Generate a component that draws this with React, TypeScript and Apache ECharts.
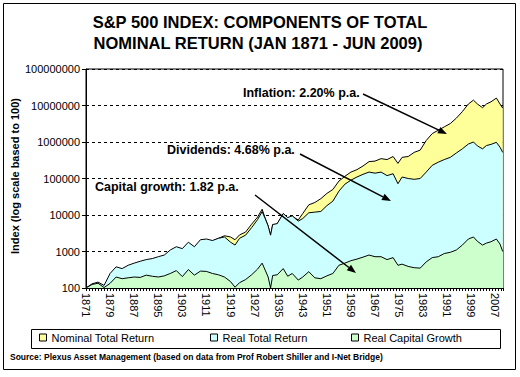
import React, { useEffect, useRef } from "react";
import * as echarts from "echarts";

// ---- Data ----
const years = [
  1871, 1873, 1875, 1877, 1879, 1881, 1883, 1885, 1887, 1889, 1891, 1893, 1895, 1897, 1899,
  1901, 1903, 1905, 1907, 1909, 1911, 1913, 1915, 1917, 1919, 1920.5, 1922, 1924, 1926, 1928,
  1929.5, 1930.5, 1931.5, 1932.3, 1933, 1934.5, 1936.5, 1938, 1939.5, 1941.5, 1943, 1945, 1947,
  1949, 1951, 1953, 1955, 1957, 1959, 1961, 1963, 1965, 1967, 1969, 1971, 1973, 1974.6, 1976,
  1978, 1980, 1982, 1984, 1986, 1988, 1990, 1992, 1994, 1996, 1998, 1999.7, 2001, 2002.7, 2004,
  2005.5, 2007.3, 2008.5, 2009.4,
];

const nominalTotalReturn = [
  100, 120, 125, 100, 200, 320, 290, 340, 390, 430, 480, 520, 560, 620, 880,
  1100, 1000, 1550, 1200, 1900, 2050, 1950, 2300, 2700, 2500, 2100, 2850, 3400, 5600, 8800,
  14400, 8200, 5000, 2700, 5400, 5600, 10800, 8200, 9200, 7300, 11000, 19000, 22000,
  28000, 39000, 50000, 85000, 115000, 150000, 175000, 220000, 290000, 300000, 350000, 330000, 400000, 260000, 380000,
  400000, 520000, 600000, 1100000, 1700000, 2100000, 2600000, 3200000, 4500000, 6800000, 11000000, 14000000, 11000000, 8700000, 11000000,
  12600000, 16000000, 11000000, 8500000,
];

const realTotalReturn = [
  100, 130, 145, 118, 250, 380, 340, 420, 480, 540, 600, 640, 720, 800, 1100,
  1350, 1200, 1800, 1350, 2100, 2200, 2000, 2300, 2500, 1800, 1500, 2300, 2800, 4500, 7500,
  12400, 8000, 5000, 2800, 5500, 5800, 11000, 8500, 9500, 6800, 8000, 11500, 12000,
  12500, 18000, 24000, 45000, 70000, 90000, 110000, 130000, 150000, 140000, 150000, 120000, 135000, 72000, 110000,
  100000, 95000, 100000, 150000, 230000, 280000, 330000, 380000, 500000, 650000, 880000, 1000000, 780000, 650000, 800000,
  860000, 980000, 720000, 520000,
];

const realCapitalGrowth = [
  100, 125, 135, 103, 134, 200, 180, 190, 200, 195, 225, 210, 200, 215, 250,
  300, 205, 320, 225, 290, 285, 250, 230, 200, 150, 105, 140, 170, 230, 330,
  480, 310, 200, 100, 220, 230, 340, 210, 250, 165, 200, 280, 190,
  180, 215, 250, 420, 480, 560, 620, 700, 800, 720, 720, 600, 680, 420, 450,
  390, 360, 350, 520, 680, 720, 880, 950, 1100, 1500, 2200, 2500, 1900, 1500, 1700,
  1850, 2200, 1600, 1000,
];

const seriesNames = ["Nominal Total Return", "Real Total Return", "Real Capital Growth"];
const seriesColors = ["#FFFF99", "#CCFFFF", "#CCFFCC"];
const xTickLabels = [1871, 1879, 1887, 1895, 1903, 1911, 1919, 1927, 1935, 1943, 1951, 1959, 1967, 1975, 1983, 1991, 1999, 2007];

const FONT = "Arial, 'Liberation Sans', sans-serif";

function arrow(x1: number, y1: number, x2: number, y2: number) {
  const ang = Math.atan2(y2 - y1, x2 - x1);
  const len = 9;
  const half = 3.5;
  const bx = x2 - len * Math.cos(ang);
  const by = y2 - len * Math.sin(ang);
  const px = -Math.sin(ang) * half;
  const py = Math.cos(ang) * half;
  return [
    {
      type: "line",
      shape: { x1, y1, x2: bx, y2: by },
      style: { stroke: "#000", lineWidth: 1.5 },
      z: 100,
    },
    {
      type: "polygon",
      shape: { points: [[x2, y2], [bx + px, by + py], [bx - px, by - py]] },
      style: { fill: "#000" },
      z: 100,
    },
  ];
}

export default function App() {
  const ref = useRef<HTMLDivElement>(null);

  useEffect(() => {
    if (!ref.current) return;
    const chart = echarts.init(ref.current, undefined, { renderer: "svg" });

    const mk = (vals: number[]) => years.map((y, i) => [y, vals[i]]);
    const allVals = [nominalTotalReturn, realTotalReturn, realCapitalGrowth];

    const legendLefts = [39, 210, 351];

    const option: any = {
      animation: false,
      backgroundColor: "#fff",
      textStyle: { fontFamily: FONT },
      grid: {
        left: 86,
        right: 17,
        top: 69,
        bottom: 89,
        show: true,
        borderColor: "#000",
        borderWidth: 1,
        backgroundColor: "transparent",
      },
      legend: seriesNames.map((n, i) => ({
        data: [
          {
            name: n,
            itemStyle: { color: seriesColors[i], borderColor: "#000", borderWidth: 1 },
          },
        ],
        left: legendLefts[i],
        top: 332,
        padding: 0,
        icon: "rect",
        itemWidth: 7,
        itemHeight: 7,
        selectedMode: false,
        textStyle: { fontSize: 11, fontFamily: FONT, color: "#000" },
      })),
      xAxis: {
        type: "value",
        min: 1871,
        max: 2009.5,
        interval: 1,
        axisLine: { lineStyle: { color: "#000", width: 1 } },
        axisTick: { show: true, length: 3, lineStyle: { color: "#000" } },
        splitLine: { show: false },
        axisLabel: {
          rotate: -90,
          fontSize: 11,
          fontFamily: FONT,
          color: "#000",
          margin: 5,
          showMinLabel: true,
          showMaxLabel: true,
          formatter: (v: number) => (xTickLabels.indexOf(Math.round(v)) >= 0 && Math.abs(v - Math.round(v)) < 1e-6 ? String(Math.round(v)) : ""),
        },
      },
      yAxis: {
        type: "log",
        logBase: 10,
        min: 100,
        max: 100000000,
        axisLine: { show: true, lineStyle: { color: "#000", width: 1 } },
        axisTick: { show: true, length: 4, lineStyle: { color: "#000" } },
        splitLine: { show: true, lineStyle: { color: "#000", type: [3, 3], width: 1 } },
        axisLabel: {
          fontSize: 11,
          fontFamily: FONT,
          color: "#000",
          margin: 6,
          formatter: (v: number) => String(Math.round(v)),
        },
      },
      series: seriesNames.map((n, i) => ({
        name: n,
        type: "line",
        data: mk(allVals[i]),
        showSymbol: false,
        symbol: "none",
        lineStyle: { color: "#000", width: 1 },
        itemStyle: { color: seriesColors[i] },
        areaStyle: { color: seriesColors[i], opacity: 1, origin: "start" },
        z: 2 + i,
      })),
      graphic: [
        {
          type: "rect",
          shape: { x: 3.5, y: 3.5, width: 512, height: 366 },
          style: { fill: "none", stroke: "#000", lineWidth: 1 },
          silent: true,
        },
        {
          type: "text",
          x: 260,
          y: 22,
          style: {
            text: "S&P 500 INDEX: COMPONENTS OF TOTAL",
            font: "bold 16.5px " + FONT,
            fill: "#000",
            align: "center",
            verticalAlign: "middle",
          },
        },
        {
          type: "text",
          x: 258,
          y: 43,
          style: {
            text: "NOMINAL RETURN (JAN 1871 - JUN 2009)",
            font: "bold 16.5px " + FONT,
            fill: "#000",
            align: "center",
            verticalAlign: "middle",
          },
        },
        {
          type: "text",
          x: 15,
          y: 176,
          rotation: Math.PI / 2,
          style: {
            text: "Index (log scale based to 100)",
            font: "bold 11px " + FONT,
            fill: "#000",
            align: "center",
            verticalAlign: "middle",
          },
        },
        {
          type: "rect",
          shape: { x: 31.5, y: 329.5, width: 469, height: 19 },
          style: { fill: "none", stroke: "#000", lineWidth: 1 },
          silent: true,
        },
        {
          type: "text",
          x: 10,
          y: 357,
          style: {
            text: "Source: Plexus Asset Management (based on data from Prof Robert Shiller and I-Net Bridge)",
            font: "bold 8.5px " + FONT,
            fill: "#000",
            align: "left",
            verticalAlign: "middle",
          },
        },
        {
          type: "text",
          x: 243,
          y: 93,
          z: 100,
          style: { text: "Inflation: 2.20% p.a.", font: "bold 12.5px " + FONT, fill: "#000", verticalAlign: "middle" },
        },
        {
          type: "text",
          x: 167,
          y: 150,
          z: 100,
          style: { text: "Dividends: 4.68% p.a.", font: "bold 12.5px " + FONT, fill: "#000", verticalAlign: "middle" },
        },
        {
          type: "text",
          x: 95,
          y: 187,
          z: 100,
          style: { text: "Capital growth: 1.82 p.a.", font: "bold 12.5px " + FONT, fill: "#000", verticalAlign: "middle" },
        },
        ...arrow(363, 94, 447, 134),
        ...arrow(300, 154, 391, 201),
        ...arrow(255, 195, 356, 273),
      ],
    };

    chart.setOption(option);
    return () => chart.dispose();
  }, []);

  return (
    <div
      ref={ref}
      style={{ position: "absolute", left: 0, top: 0, width: 520, height: 377, background: "#fff" }}
    />
  );
}
